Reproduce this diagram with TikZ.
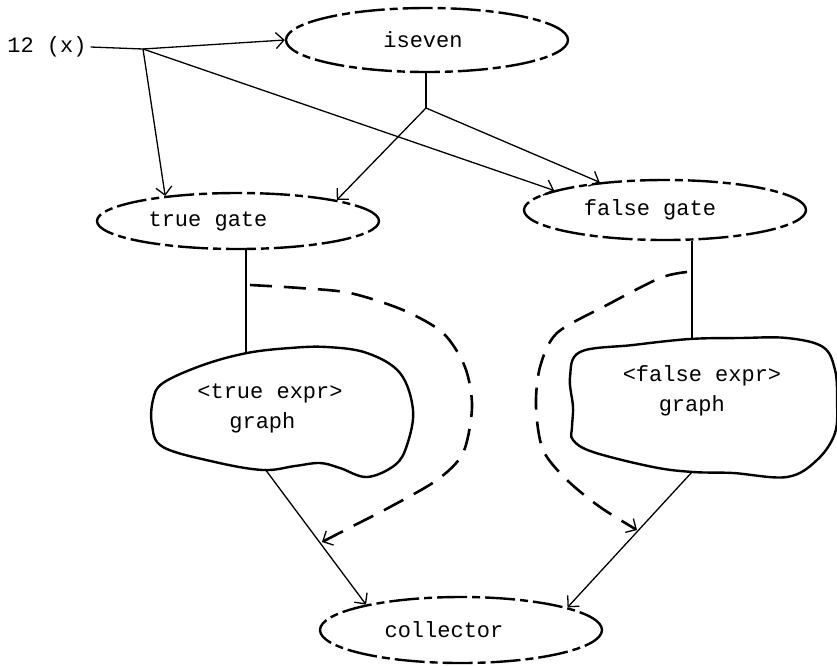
\documentclass[tikz,border=0pt]{standalone}
\usepackage{fontspec}
\setmonofont{Liberation Mono}
\usetikzlibrary{arrows.meta,shapes.geometric}

\begin{document}
\begin{tikzpicture}[x=1pt, y=-1pt, line width=1.3pt,
  every node/.style={font=\ttfamily\fontsize{22}{30}\selectfont},
  gate/.style={draw, ellipse, line width=2.4pt, inner sep=0pt,
    dash pattern=on 30pt off 5pt on 8pt off 5pt, minimum width=282pt},
  wire/.style={-{Straight Barb[length=8pt,width=16pt]}},
  loopback/.style={line width=2.6pt, dash pattern=on 22pt off 12pt,
    -{Straight Barb[length=8pt,width=16pt,line width=1.3pt]}},
  blob/.style={line width=2.4pt}
]
  \useasboundingbox (0,0) rectangle (837,665);

  % input and test
  \node (input) at (47,47) {12 (x)};
  \node[gate, minimum height=64pt] (iseven) at (427,40) {iseven\hspace*{8pt}};
  \coordinate (fork) at (143,49);
  \coordinate (split) at (426,108);

  % gates
  \node[gate, minimum height=56pt] (tgate) at (238,221) {true gate\hspace*{60pt}};
  \node[gate, minimum height=60pt] (fgate) at (665,210) {false gate\hspace*{30pt}};

  % expression graphs
  \node[align=left] (texpr) at (270,408) {<true expr>\\\hspace*{32pt}graph};
  \node[align=left] (fexpr) at (702,391) {<false expr>\\\hspace*{36pt}graph};
  \draw[blob] plot[smooth cycle, tension=0.6] coordinates {
    (247,353) (290,348) (327,347) (367,353) (400,373) (413,410) (407,445)
    (395,465) (367,477) (340,468) (320,463) (295,466) (263,470) (215,462)
    (163,447) (152,425) (153,400) (163,383) (203,365)};
  \draw[blob] plot[smooth cycle, tension=0.6] coordinates {
    (690,339) (740,338) (787,338) (823,347) (835,370) (837,400) (835,433)
    (817,460) (787,477) (733,473) (693,472) (653,467) (593,452) (573,440)
    (572,427) (573,407) (570,377) (580,352) (633,345)};
  \coordinate (ttop) at (246,353);
  \coordinate (tbot) at (265,469);
  \coordinate (ftop) at (692,339);
  \coordinate (fbot) at (692,472);

  % collector
  \node[gate, minimum height=66pt] (collector) at (461,630) {collector\hspace*{34pt}};

  % connectors
  \draw[wire] (input.east) -- (fork) -- (iseven.west);
  \draw[wire] (fork) -- (tgate.161);
  \draw[wire] (fork) -- (fgate.170);
  \draw (iseven.south -| split) -- (split);
  \draw[wire] (split) -- (tgate.12);
  \draw[wire] (split) -- (fgate.157);
  \draw (tgate.south -| ttop) -- (ttop);
  \draw (fgate.south -| ftop) -- (ftop);
  \draw[wire] (tbot) -- (collector.165);
  \draw[wire] (fbot) -- (collector.12);

  % loops back
  \draw[loopback] plot[smooth] coordinates {
    (250,285) (300,288) (350,293) (403,310) (443,333) (465,367) (472,407)
    (463,453) (437,480) (390,507) (355,525) (322,542)};
  \draw[loopback] plot[smooth] coordinates {
    (687,272) (660,278) (607,305) (557,333) (540,367) (536,407) (543,450)
    (567,480) (600,507) (637,530)};
\end{tikzpicture}
\end{document}
